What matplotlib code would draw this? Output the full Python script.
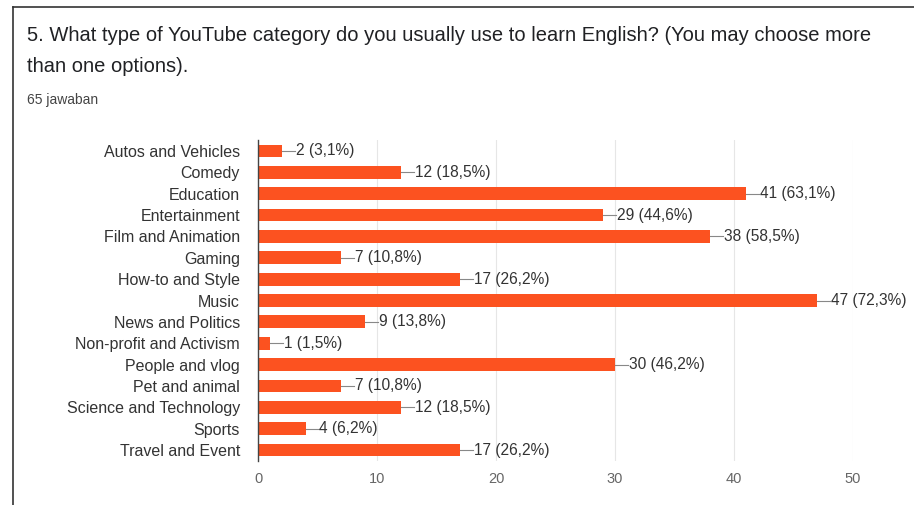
import matplotlib.pyplot as plt
from matplotlib.lines import Line2D

plt.rcParams['font.family'] = ['Liberation Sans', 'DejaVu Sans']

# survey answers
categories = ['Autos and Vehicles', 'Comedy', 'Education', 'Entertainment',
              'Film and Animation', 'Gaming', 'How-to and Style', 'Music',
              'News and Politics', 'Non-profit and Activism', 'People and vlog',
              'Pet and animal', 'Science and Technology', 'Sports', 'Travel and Event']
counts = [2, 12, 41, 29, 38, 7, 17, 47, 9, 1, 30, 7, 12, 4, 17]
percents = ['3,1', '18,5', '63,1', '44,6', '58,5', '10,8', '26,2', '72,3',
            '13,8', '1,5', '46,2', '10,8', '18,5', '6,2', '26,2']
xticks = [0, 10, 20, 30, 40, 50]

bar_color = '#fc5220'

fig = plt.figure(figsize=(9.14, 5.05), dpi=100)
ax = fig.add_axes([0.2823, 0.0877, 0.651, 0.6345])

ypos = list(range(len(categories)))
ax.barh(ypos, counts, height=0.6, color=bar_color, zorder=3)

# value labels with a short leader line
for y, c, p in zip(ypos, counts, percents):
    ax.plot([c, c + 1.1], [y, y], color='#888888', lw=0.8, zorder=3, clip_on=False)
    ax.text(c + 1.15, y, f'{c} ({p}%)', va='center', ha='left',
            fontsize=11.2, color='#333333', clip_on=False)

ax.set_ylim(len(categories) - 0.5, -0.5)
ax.set_xlim(0, 50)
ax.set_yticks(ypos)
ax.set_yticklabels(categories, fontsize=11.5, color='#333333')
ax.set_xticks(xticks)
ax.set_xticklabels([str(t) for t in xticks], fontsize=10.5, color='#666666')
ax.tick_params(axis='both', length=0)
ax.tick_params(axis='y', pad=13)
ax.tick_params(axis='x', pad=8)

for s in ['top', 'right', 'bottom']:
    ax.spines[s].set_visible(False)
ax.spines['left'].set_color('#444444')
ax.spines['left'].set_linewidth(1.0)
ax.spines['left'].set_zorder(4)
ax.grid(axis='x', color='#e6e6e6', lw=0.8, zorder=0)
ax.grid(axis='y', visible=False)

# header texts
fig.text(27 / 914, 1 - 35 / 505,
         '5. What type of YouTube category do you usually use to learn English? (You may choose more',
         fontsize=14.5, color='#202124', va='center', ha='left')
fig.text(27 / 914, 1 - 66 / 505, 'than one options).',
         fontsize=14.5, color='#202124', va='center', ha='left')
fig.text(27 / 914, 1 - 100 / 505, '65 jawaban',
         fontsize=10, color='#444444', va='center', ha='left')

# card border (top and left edges)
fig.add_artist(Line2D([13 / 914, 13 / 914], [0, 1 - 7 / 505], color='#333333', lw=1.2,
                      transform=fig.transFigure))
fig.add_artist(Line2D([13 / 914, 1], [1 - 7 / 505, 1 - 7 / 505], color='#333333', lw=1.2,
                      transform=fig.transFigure))

fig.savefig('out.png', dpi=100)
